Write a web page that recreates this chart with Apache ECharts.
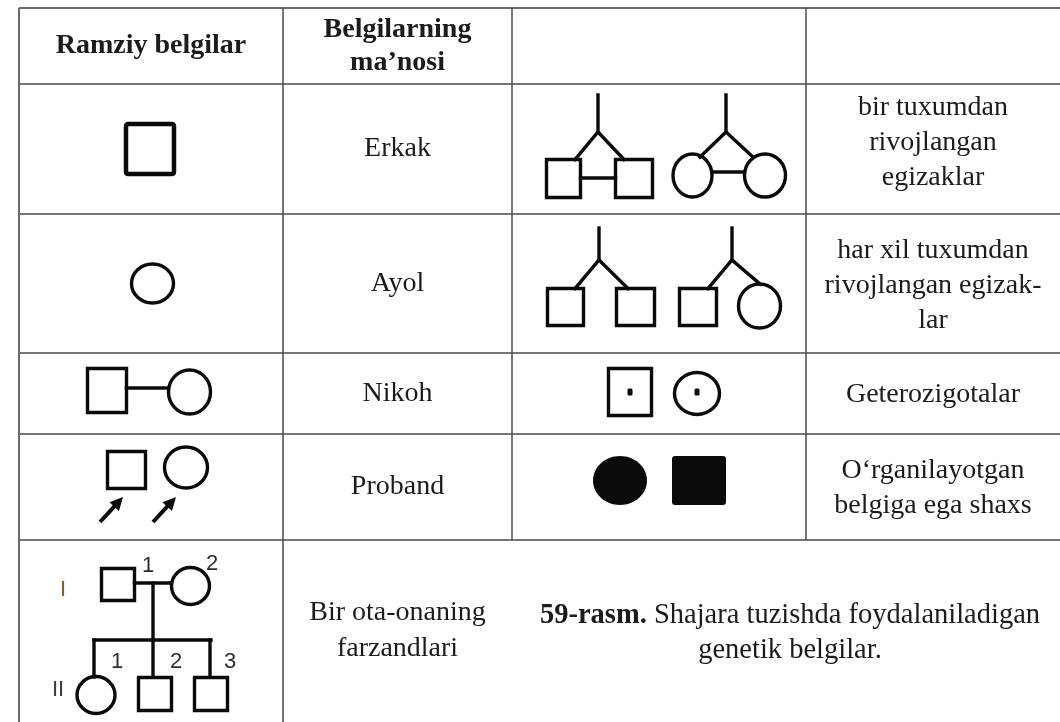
<!DOCTYPE html>
<html><head><meta charset="utf-8">
<script src="https://cdn.jsdelivr.net/npm/echarts@6/dist/echarts.min.js"></script>
<style>html,body{margin:0;padding:0;background:#fff}#c{width:1060px;height:722px}</style>
</head><body><div id="c"></div>
<script>
// ---- table structure (in table units = axis values) ----
const columnEdges = [19, 283, 512, 806, 1060];
const rowEdges = [8, 84, 214, 353, 434, 540, 722];

// ---- texts ----
const headerLabels = ['Ramziy belgilar', 'Belgilarning\nma’nosi'];
const meaningLabels = ['Erkak', 'Ayol', 'Nikoh', 'Proband', 'Bir ota-onaning\nfarzandlari'];
const descriptionLabels = ['bir tuxumdan\nrivojlangan\negizaklar', 'har xil tuxumdan\nrivojlangan egizak-\nlar', 'Geterozigotalar', 'O‘rganilayotgan\nbelgiga ega shaxs'];
const descriptionShift = [-6, 2, 1, 1];
const captionBold = '59-rasm.';
const captionLine1 = ' Shajara tuzishda foydalaniladigan';
const captionLine2 = 'genetik belgilar.';
const generationLabels = ['I', 'II'];
const generationLabelPos = [[63, 590], [58, 690]];
const individualLabels = ['1', '2', '1', '2', '3'];
const individualLabelPos = [[148, 566], [212, 564], [117, 662], [176, 662], [230, 662]];

// ---- pedigree symbols (table units) ----
const heavySquares = [[126, 124, 174, 174]];
const openSquares = [
  [87.5, 368.5, 126.5, 412.5],
  [107.5, 451.5, 145.5, 488.5],
  [101.5, 568.5, 134.5, 600.5],
  [138.5, 677.5, 171.5, 710.5],
  [194.5, 677.5, 227.5, 710.5],
  [546.5, 159.5, 580.5, 197.5],
  [615.5, 159.5, 652.5, 197.5],
  [547.5, 288.5, 583.5, 325.5],
  [616.5, 288.5, 654.5, 325.5],
  [679.5, 288.5, 716.5, 325.5],
  [608.5, 368.5, 651.5, 415.5]
];
const openEllipses = [
  [152.5, 283.5, 21, 19.5],
  [189.5, 392, 21, 22],
  [186, 467.5, 21.5, 20.5],
  [190.5, 586, 19, 18.5],
  [96, 695, 19, 18.5],
  [692.5, 175.5, 19.5, 21.5],
  [765, 175.5, 20.5, 21.5],
  [759.5, 306, 21, 22],
  [697, 393.5, 22.5, 21]
];
const connectorLines = [
  [126.5, 388, 168.5, 388],
  [134.5, 583, 171.5, 583],
  [153, 583, 153, 640],
  [94, 640, 211, 640],
  [94, 640, 94, 677],
  [153, 640, 153, 677],
  [210, 640, 210, 677],
  [598, 95, 598, 132], [598, 132, 575, 159.5], [598, 132, 624, 159.5], [580.5, 178, 615.5, 178],
  [726, 95, 726, 132], [726, 132, 700, 157], [726, 132, 753, 157], [712, 172, 744.5, 172],
  [599, 228, 599, 260], [599, 260, 575, 288.5], [599, 260, 628, 288.5],
  [732, 228, 732, 260], [732, 260, 708, 288.5], [732, 260, 760, 284]
];
const carrierDots = [[630, 392], [697, 392]];
const probandArrows = [[100, 522, 123, 497], [153, 522, 176, 497]];
const filledEllipses = [[620, 480.5, 27, 24.5]];
const filledSquares = [[672, 456, 726, 505]];

// ---- build table lines and text items ----
const lastCol = columnEdges[columnEdges.length - 1];
const tableLines = [];
rowEdges.slice(0, -1).forEach(y => tableLines.push([columnEdges[0], y, lastCol, y]));
const mergedRowTop = rowEdges[rowEdges.length - 2];
columnEdges.slice(0, -1).forEach((x, i) => {
  const bottom = i >= 2 ? mergedRowTop : rowEdges[rowEdges.length - 1];
  tableLines.push([x, rowEdges[0], x, bottom]);
});

const colCenter = i => (columnEdges[i] + columnEdges[i + 1]) / 2;
const rowCenter = j => (rowEdges[j] + rowEdges[j + 1]) / 2;
const SERIF = '"Liberation Serif", "Times New Roman", serif';
const TEXT_INK = '#1c1a1b';
const textItems = [];
headerLabels.forEach((t, i) => textItems.push({ value: [colCenter(i), rowCenter(0)], text: t, bold: true, lh: 33 }));
meaningLabels.forEach((t, j) => textItems.push({ value: [colCenter(1), rowCenter(j + 1)], text: t, bold: false, lh: 36 }));
descriptionLabels.forEach((t, j) => textItems.push({ value: [colCenter(3), rowCenter(j + 1) + descriptionShift[j]], text: t, bold: false, lh: 35 }));
textItems.push({ value: [(columnEdges[2] + lastCol) / 2 + 4, rowCenter(5) + 2], caption: true, lh: 35 });

const smallLabels = [];
generationLabels.forEach((t, i) => smallLabels.push({ value: generationLabelPos[i], text: t, color: i === 0 ? '#8a5a30' : '#3c3c46' }));
individualLabels.forEach((t, i) => smallLabels.push({ value: individualLabelPos[i], text: t, color: '#2c2c38' }));

// ---- renderers ----
function rectFrom(api) {
  const p1 = api.coord([api.value(0), api.value(1)]);
  const p2 = api.coord([api.value(2), api.value(3)]);
  return { x: Math.min(p1[0], p2[0]), y: Math.min(p1[1], p2[1]), width: Math.abs(p2[0] - p1[0]), height: Math.abs(p2[1] - p1[1]) };
}
function ellipseFrom(api) {
  const c = api.coord([api.value(0), api.value(1)]);
  const s = api.size([api.value(2), api.value(3)]);
  return { cx: c[0], cy: c[1], rx: s[0], ry: s[1] };
}
function lineFrom(api) {
  const p1 = api.coord([api.value(0), api.value(1)]);
  const p2 = api.coord([api.value(2), api.value(3)]);
  return { x1: p1[0], y1: p1[1], x2: p2[0], y2: p2[1] };
}
const INK = '#0a0a0a';
function custom(name, data, renderItem, z) {
  return { type: 'custom', name, data, renderItem, clip: false, silent: true, z: z || 2, animation: false };
}

const option = {
  backgroundColor: '#ffffff',
  animation: false,
  grid: { left: 0, right: 0, top: 0, bottom: 0, containLabel: false },
  xAxis: { type: 'value', min: 0, max: 1060, show: false },
  yAxis: { type: 'value', min: 0, max: 722, inverse: true, show: false },
  series: [
    custom('table', tableLines, (params, api) => {
      const sh = lineFrom(api);
      const outer = (sh.x1 === sh.x2 && api.value(0) === columnEdges[0]) || (sh.y1 === sh.y2 && api.value(1) === rowEdges[0]);
      return { type: 'line', shape: sh, style: { stroke: outer ? '#6a6a6a' : '#4a4a4a', lineWidth: outer ? 2 : 1.5 } };
    }, 1),
    custom('heavySquares', heavySquares, (params, api) => ({
      type: 'rect', shape: Object.assign(rectFrom(api), { r: 2 }), style: { fill: 'none', stroke: INK, lineWidth: 4.5 }
    })),
    custom('openSquares', openSquares, (params, api) => ({
      type: 'rect', shape: rectFrom(api), style: { fill: 'none', stroke: INK, lineWidth: 3.4 }
    })),
    custom('openEllipses', openEllipses, (params, api) => ({
      type: 'ellipse', shape: ellipseFrom(api), style: { fill: 'none', stroke: INK, lineWidth: 3.4 }
    })),
    custom('connectors', connectorLines, (params, api) => ({
      type: 'line', shape: lineFrom(api), style: { stroke: INK, lineWidth: 3.4, lineCap: 'square' }
    })),
    custom('carrierDots', carrierDots, (params, api) => {
      const c = api.coord([api.value(0), api.value(1)]);
      return { type: 'rect', shape: { x: c[0] - 2.5, y: c[1] - 3.5, width: 5, height: 7, r: 1.5 }, style: { fill: INK } };
    }),
    custom('probandArrows', probandArrows, (params, api) => {
      const a = api.coord([api.value(0), api.value(1)]);
      const b = api.coord([api.value(2), api.value(3)]);
      const dx = b[0] - a[0], dy = b[1] - a[1];
      const L = Math.sqrt(dx * dx + dy * dy);
      const ux = dx / L, uy = dy / L, nx = -uy, ny = ux;
      const hl = 13, hw = 6.5;
      const bx = b[0] - ux * hl, by = b[1] - uy * hl;
      return {
        type: 'group', children: [
          { type: 'line', shape: { x1: a[0], y1: a[1], x2: bx + ux * 2, y2: by + uy * 2 }, style: { stroke: INK, lineWidth: 4 } },
          { type: 'polygon', shape: { points: [[b[0], b[1]], [bx + nx * hw, by + ny * hw], [bx - nx * hw, by - ny * hw]] }, style: { fill: INK } }
        ]
      };
    }),
    custom('filledEllipses', filledEllipses, (params, api) => ({
      type: 'ellipse', shape: ellipseFrom(api), style: { fill: INK }
    })),
    custom('filledSquares', filledSquares, (params, api) => ({
      type: 'rect', shape: Object.assign(rectFrom(api), { r: 3 }), style: { fill: INK }
    })),
    custom('texts', textItems, (params, api) => {
      const t = textItems[params.dataIndex];
      const c = api.coord([api.value(0), api.value(1)]);
      if (t.caption) {
        return {
          type: 'text', style: {
            x: c[0], y: c[1], align: 'center', verticalAlign: 'middle',
            text: '{b|' + captionBold + '}{r|' + captionLine1 + '}\n{r|' + captionLine2 + '}',
            rich: {
              b: { fontFamily: SERIF, fontSize: 28.5, fontWeight: 'bold', fill: TEXT_INK, lineHeight: t.lh },
              r: { fontFamily: SERIF, fontSize: 28.5, fill: TEXT_INK, lineHeight: t.lh }
            }
          }
        };
      }
      return {
        type: 'text', style: {
          x: c[0], y: c[1], align: 'center', verticalAlign: 'middle', text: t.text,
          fontFamily: SERIF, fontSize: 28, fontWeight: t.bold ? 'bold' : 'normal', fill: TEXT_INK, lineHeight: t.lh
        }
      };
    }, 3),
    custom('pedigreeLabels', smallLabels, (params, api) => {
      const t = smallLabels[params.dataIndex];
      const c = api.coord([api.value(0), api.value(1)]);
      return {
        type: 'text', style: {
          x: c[0], y: c[1], align: 'center', verticalAlign: 'middle', text: t.text,
          fontFamily: '"Liberation Sans", "DejaVu Sans", sans-serif', fontSize: 22, fill: t.color
        }
      };
    }, 3)
  ]
};
const chart = echarts.init(document.getElementById('c'), null, { renderer: 'canvas' });
chart.setOption(option);
</script></body></html>
